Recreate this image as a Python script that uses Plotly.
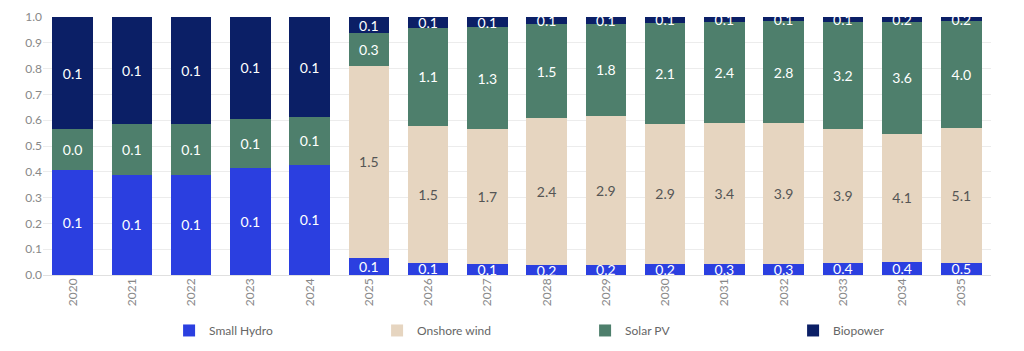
import plotly.graph_objects as go

years = [str(y) for y in range(2020, 2036)]

# Segment shares (fraction of each bar)
hydro_share = [0.407, 0.388, 0.388, 0.416, 0.428, 0.067, 0.047, 0.041, 0.037, 0.040, 0.044, 0.044, 0.044, 0.048, 0.050, 0.048]
wind_share = [0, 0, 0, 0, 0, 0.744, 0.532, 0.524, 0.570, 0.576, 0.541, 0.546, 0.546, 0.517, 0.498, 0.523]
solar_share = [0.158, 0.197, 0.197, 0.189, 0.183, 0.126, 0.378, 0.395, 0.365, 0.358, 0.392, 0.391, 0.393, 0.417, 0.433, 0.412]
bio_share = [0.435, 0.415, 0.415, 0.395, 0.389, 0.063, 0.043, 0.040, 0.028, 0.026, 0.023, 0.019, 0.017, 0.018, 0.019, 0.017]

# Data labels (capacity values) shown inside the segments
hydro_lbl = ["0.1", "0.1", "0.1", "0.1", "0.1", "0.1", "0.1", "0.1", "0.2", "0.2", "0.2", "0.3", "0.3", "0.4", "0.4", "0.5"]
wind_lbl = ["", "", "", "", "", "1.5", "1.5", "1.7", "2.4", "2.9", "2.9", "3.4", "3.9", "3.9", "4.1", "5.1"]
solar_lbl = ["0.0", "0.1", "0.1", "0.1", "0.1", "0.3", "1.1", "1.3", "1.5", "1.8", "2.1", "2.4", "2.8", "3.2", "3.6", "4.0"]
bio_lbl = ["0.1", "0.1", "0.1", "0.1", "0.1", "0.1", "0.1", "0.1", "0.1", "0.1", "0.1", "0.1", "0.1", "0.1", "0.2", "0.2"]

FONT = "Lato"
series = [
    ("Small Hydro", hydro_share, hydro_lbl, "#2B3FE0", "white"),
    ("Onshore wind", wind_share, wind_lbl, "#E6D5C0", "#555555"),
    ("Solar PV", solar_share, solar_lbl, "#4E7F6C", "white"),
    ("Biopower", bio_share, bio_lbl, "#0B1F66", "white"),
]

fig = go.Figure()
for name, vals, lbls, color, tcolor in series:
    fig.add_trace(go.Bar(
        x=years, y=vals, name=name, text=lbls,
        marker=dict(color=color, line=dict(width=0)),
        textposition="inside", insidetextanchor="middle",
        textangle=0, constraintext="none", cliponaxis=True,
        textfont=dict(family=FONT, size=14, color=tcolor),
    ))

fig.update_layout(
    barmode="stack",
    bargap=0.32,
    width=1024, height=351,
    margin=dict(l=43, r=33, t=17, b=76, autoexpand=False),
    paper_bgcolor="white", plot_bgcolor="white",
    font=dict(family=FONT, color="#777777"),
    uniformtext=dict(minsize=14, mode="show"),
    xaxis=dict(
        tickangle=-90, tickfont=dict(size=12, color="#888888"),
        showgrid=False, showline=False, ticks="",
    ),
    yaxis=dict(
        range=[0, 1], dtick=0.1, tickformat=".1f",
        tickfont=dict(size=12, color="#888888"),
        showgrid=True, gridcolor="#ECECEC", gridwidth=1,
        zeroline=True, zerolinecolor="#E0E0E0", zerolinewidth=1,
        ticks="", ticklen=0,
    ),
    legend=dict(
        orientation="h", x=0.133, xanchor="left",
        y=-0.215, yanchor="middle",
        entrywidth=163, entrywidthmode="pixels", itemwidth=30,
        font=dict(size=12, color="#666666", family=FONT),
        traceorder="normal",
    ),
    showlegend=True,
)

fig.write_html("out.html")
